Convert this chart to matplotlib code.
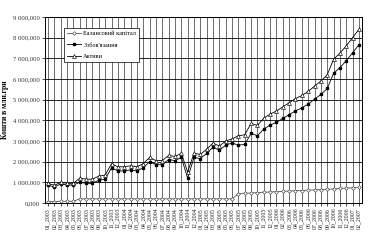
import matplotlib
matplotlib.use("Agg")
import matplotlib.pyplot as plt
from matplotlib.ticker import FuncFormatter

# Months 01_2003 .. 02_2007
months = []
for year in range(2003, 2008):
    for m in range(1, 13):
        months.append(f"{m:02d}_{year}")
months = months[:50]

# Values in millions of UAH
capital = [0.07, 0.07, 0.08, 0.08, 0.08, 0.2, 0.2, 0.2, 0.2, 0.2,
           0.2, 0.2, 0.2, 0.2, 0.2, 0.2, 0.2, 0.2, 0.2, 0.2,
           0.2, 0.2, 0.2, 0.2, 0.2, 0.2, 0.2, 0.2, 0.2, 0.2,
           0.45, 0.47, 0.48, 0.5, 0.52, 0.53, 0.55, 0.56, 0.58, 0.59,
           0.6, 0.62, 0.63, 0.65, 0.66, 0.68, 0.7, 0.72, 0.73, 0.75]
liabilities = [0.85, 0.78, 0.92, 0.87, 0.87, 1.0, 0.95, 0.95, 1.1, 1.15,
               1.7, 1.55, 1.55, 1.6, 1.55, 1.7, 2.0, 1.85, 1.85, 2.1,
               2.05, 2.2, 1.2, 2.2, 2.15, 2.4, 2.7, 2.55, 2.8, 2.9,
               2.8, 2.83, 3.37, 3.25, 3.58, 3.77, 3.9, 4.09, 4.27, 4.46,
               4.6, 4.78, 5.02, 5.25, 5.54, 6.27, 6.55, 6.88, 7.27, 7.65]
assets = [0.95, 0.85, 1.0, 0.95, 0.95, 1.2, 1.15, 1.15, 1.3, 1.35,
          1.9, 1.75, 1.75, 1.8, 1.75, 1.9, 2.2, 2.05, 2.05, 2.3,
          2.25, 2.4, 1.5, 2.4, 2.35, 2.6, 2.9, 2.75, 3.0, 3.1,
          3.25, 3.3, 3.85, 3.75, 4.1, 4.3, 4.45, 4.65, 4.85, 5.05,
          5.2, 5.4, 5.65, 5.9, 6.2, 6.95, 7.25, 7.6, 8.0, 8.4]

plt.rcParams["font.family"] = ["Liberation Serif", "DejaVu Serif"]

fig = plt.figure(figsize=(3.68, 2.46), dpi=100)
ax = fig.add_axes([0.122, 0.175, 0.862, 0.756])

x = list(range(len(months)))
ax.plot(x, [v * 1e6 for v in capital], color="#555555", lw=0.6,
        marker="D", ms=1.9, mfc="white", mec="#444444", mew=0.45,
        label="Балансовий капітал")
ax.plot(x, [v * 1e6 for v in liabilities], color="black", lw=0.6,
        marker="s", ms=2.0, mfc="black", mec="black",
        label="Зобов'язання")
ax.plot(x, [v * 1e6 for v in assets], color="black", lw=0.6,
        marker="^", ms=2.8, mfc="white", mec="black", mew=0.45,
        label="Активи")

ax.set_xlim(-0.5, len(months) - 0.5)
ax.set_ylim(0, 9e6)
ax.set_yticks([i * 1e6 for i in range(10)])


def fmt(v, pos):
    n = int(round(v / 1e6))
    if n == 0:
        return "0,000"
    return f"{n} 000,000"


ax.yaxis.set_major_formatter(FuncFormatter(fmt))
ax.set_xticks(x)
ax.set_xticklabels(months, rotation=90, fontsize=4.2, color="#222222")
ax.tick_params(axis="y", labelsize=4.8, length=2, width=0.5, pad=1.5,
               labelcolor="#333333")
ax.tick_params(axis="x", length=2, width=0.5, pad=1.5)

ax.grid(axis="y", color="black", lw=0.6)
ax.grid(axis="x", color="#555555", lw=0.6)
ax.set_axisbelow(True)
for s in ax.spines.values():
    s.set_linewidth(0.7)
    s.set_color("black")

ax.set_ylabel("Кошти в млн.грн", fontsize=5.5, fontweight="bold", labelpad=3)

leg = ax.legend(loc="upper left", bbox_to_anchor=(0.05, 0.96), fontsize=4.5,
                frameon=True, fancybox=False, edgecolor="black",
                framealpha=1, borderpad=0.5, labelspacing=1.0,
                handlelength=2.2, handletextpad=0.4)
leg.get_frame().set_linewidth(0.5)

fig.savefig("out.png", dpi=100)
plt.close(fig)
